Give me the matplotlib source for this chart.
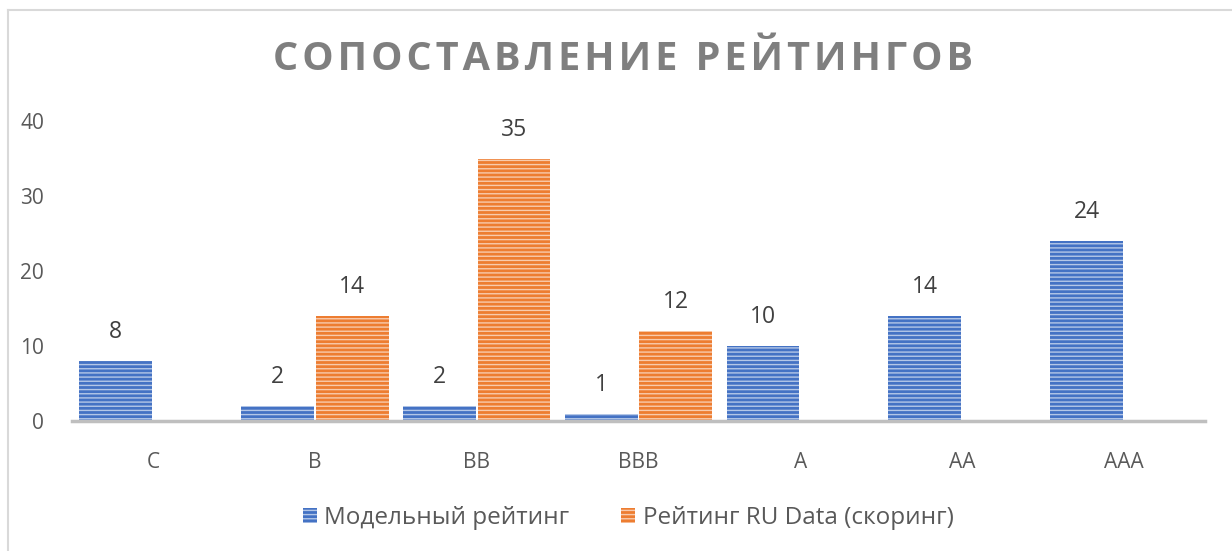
import matplotlib
matplotlib.use("Agg")
import matplotlib.pyplot as plt
from matplotlib.patches import Patch
from matplotlib.lines import Line2D
import numpy as np

categories = ["C", "B", "BB", "BBB", "A", "AA", "AAA"]
model_rating = [8, 2, 2, 1, 10, 14, 24]
ru_data_rating = [0, 14, 35, 12, 0, 0, 0]
series_names = ["Модельный рейтинг", "Рейтинг RU Data (скоринг)"]
title = "СОПОСТАВЛЕНИЕ РЕЙТИНГОВ"

blue = "#4472C4"
orange = "#ED7D31"
blue_stripe = "#B4C7E7"
orange_stripe = "#F8CBAD"

plt.rcParams['font.family'] = ['Open Sans', 'DejaVu Sans']
plt.rcParams['hatch.linewidth'] = 1.0

W, H = 1232, 551
fig = plt.figure(figsize=(W / 100, H / 100), dpi=100)
ax = fig.add_axes([72 / W, (H - 421) / H, (1205 - 72) / W, 300 / H])

x = np.arange(len(categories))
bw = 0.45
gap = 0.006

def draw(vals, xs, face, stripe):
    for xi, v in zip(xs, vals):
        if v == 0:
            continue
        ax.bar(xi, v, width=bw, color=face, edgecolor=stripe, hatch="----",
               linewidth=0, zorder=2)
        ax.annotate(str(v), (xi, v), xytext=(0, 12), textcoords="offset points",
                    ha="center", va="bottom", fontsize=16.5, color="#404040")

draw(model_rating, x - bw / 2 - gap, blue, blue_stripe)
draw(ru_data_rating, x + bw / 2 + gap, orange, orange_stripe)

ax.set_xlim(-0.5, len(categories) - 0.5)
ax.set_ylim(0, 40)
ax.set_yticks([0, 10, 20, 30, 40])
ax.set_xticks(x)
ax.set_xticklabels(categories)
ax.tick_params(axis="y", length=0, pad=20, labelsize=15, labelcolor="#595959")
ax.tick_params(axis="x", length=0, pad=22, labelsize=15, labelcolor="#595959")
for s in ["top", "right", "left"]:
    ax.spines[s].set_visible(False)
ax.spines["bottom"].set_color("#BFBFBF")
ax.spines["bottom"].set_linewidth(2.5)
ax.spines["bottom"].set_zorder(3)

# title with wide letter spacing
fig.text(623 / W, 1 - 60 / H, "\u200a".join(title), ha="center", va="center",
         fontsize=28.5, fontweight="bold", color="#7F7F7F")

handles = [Patch(facecolor=blue, edgecolor=blue_stripe, hatch="----", linewidth=0),
           Patch(facecolor=orange, edgecolor=orange_stripe, hatch="----", linewidth=0)]
fig.legend(handles, series_names, loc="center", bbox_to_anchor=(628 / W, 1 - 518 / H),
           ncol=2, frameon=False, fontsize=17.5, labelcolor="#595959",
           handlelength=0.6, handleheight=0.6, handletextpad=0.3, columnspacing=2.1)

# chart border (top and left visible)
fig.add_artist(Line2D([7.5 / W, 7.5 / W], [0, 1 - 9.5 / H], color="#D9D9D9", lw=1.5,
                      transform=fig.transFigure))
fig.add_artist(Line2D([7.5 / W, 1], [1 - 9.5 / H, 1 - 9.5 / H], color="#D9D9D9", lw=1.5,
                      transform=fig.transFigure))

fig.savefig("out.png", dpi=100, facecolor="white")
